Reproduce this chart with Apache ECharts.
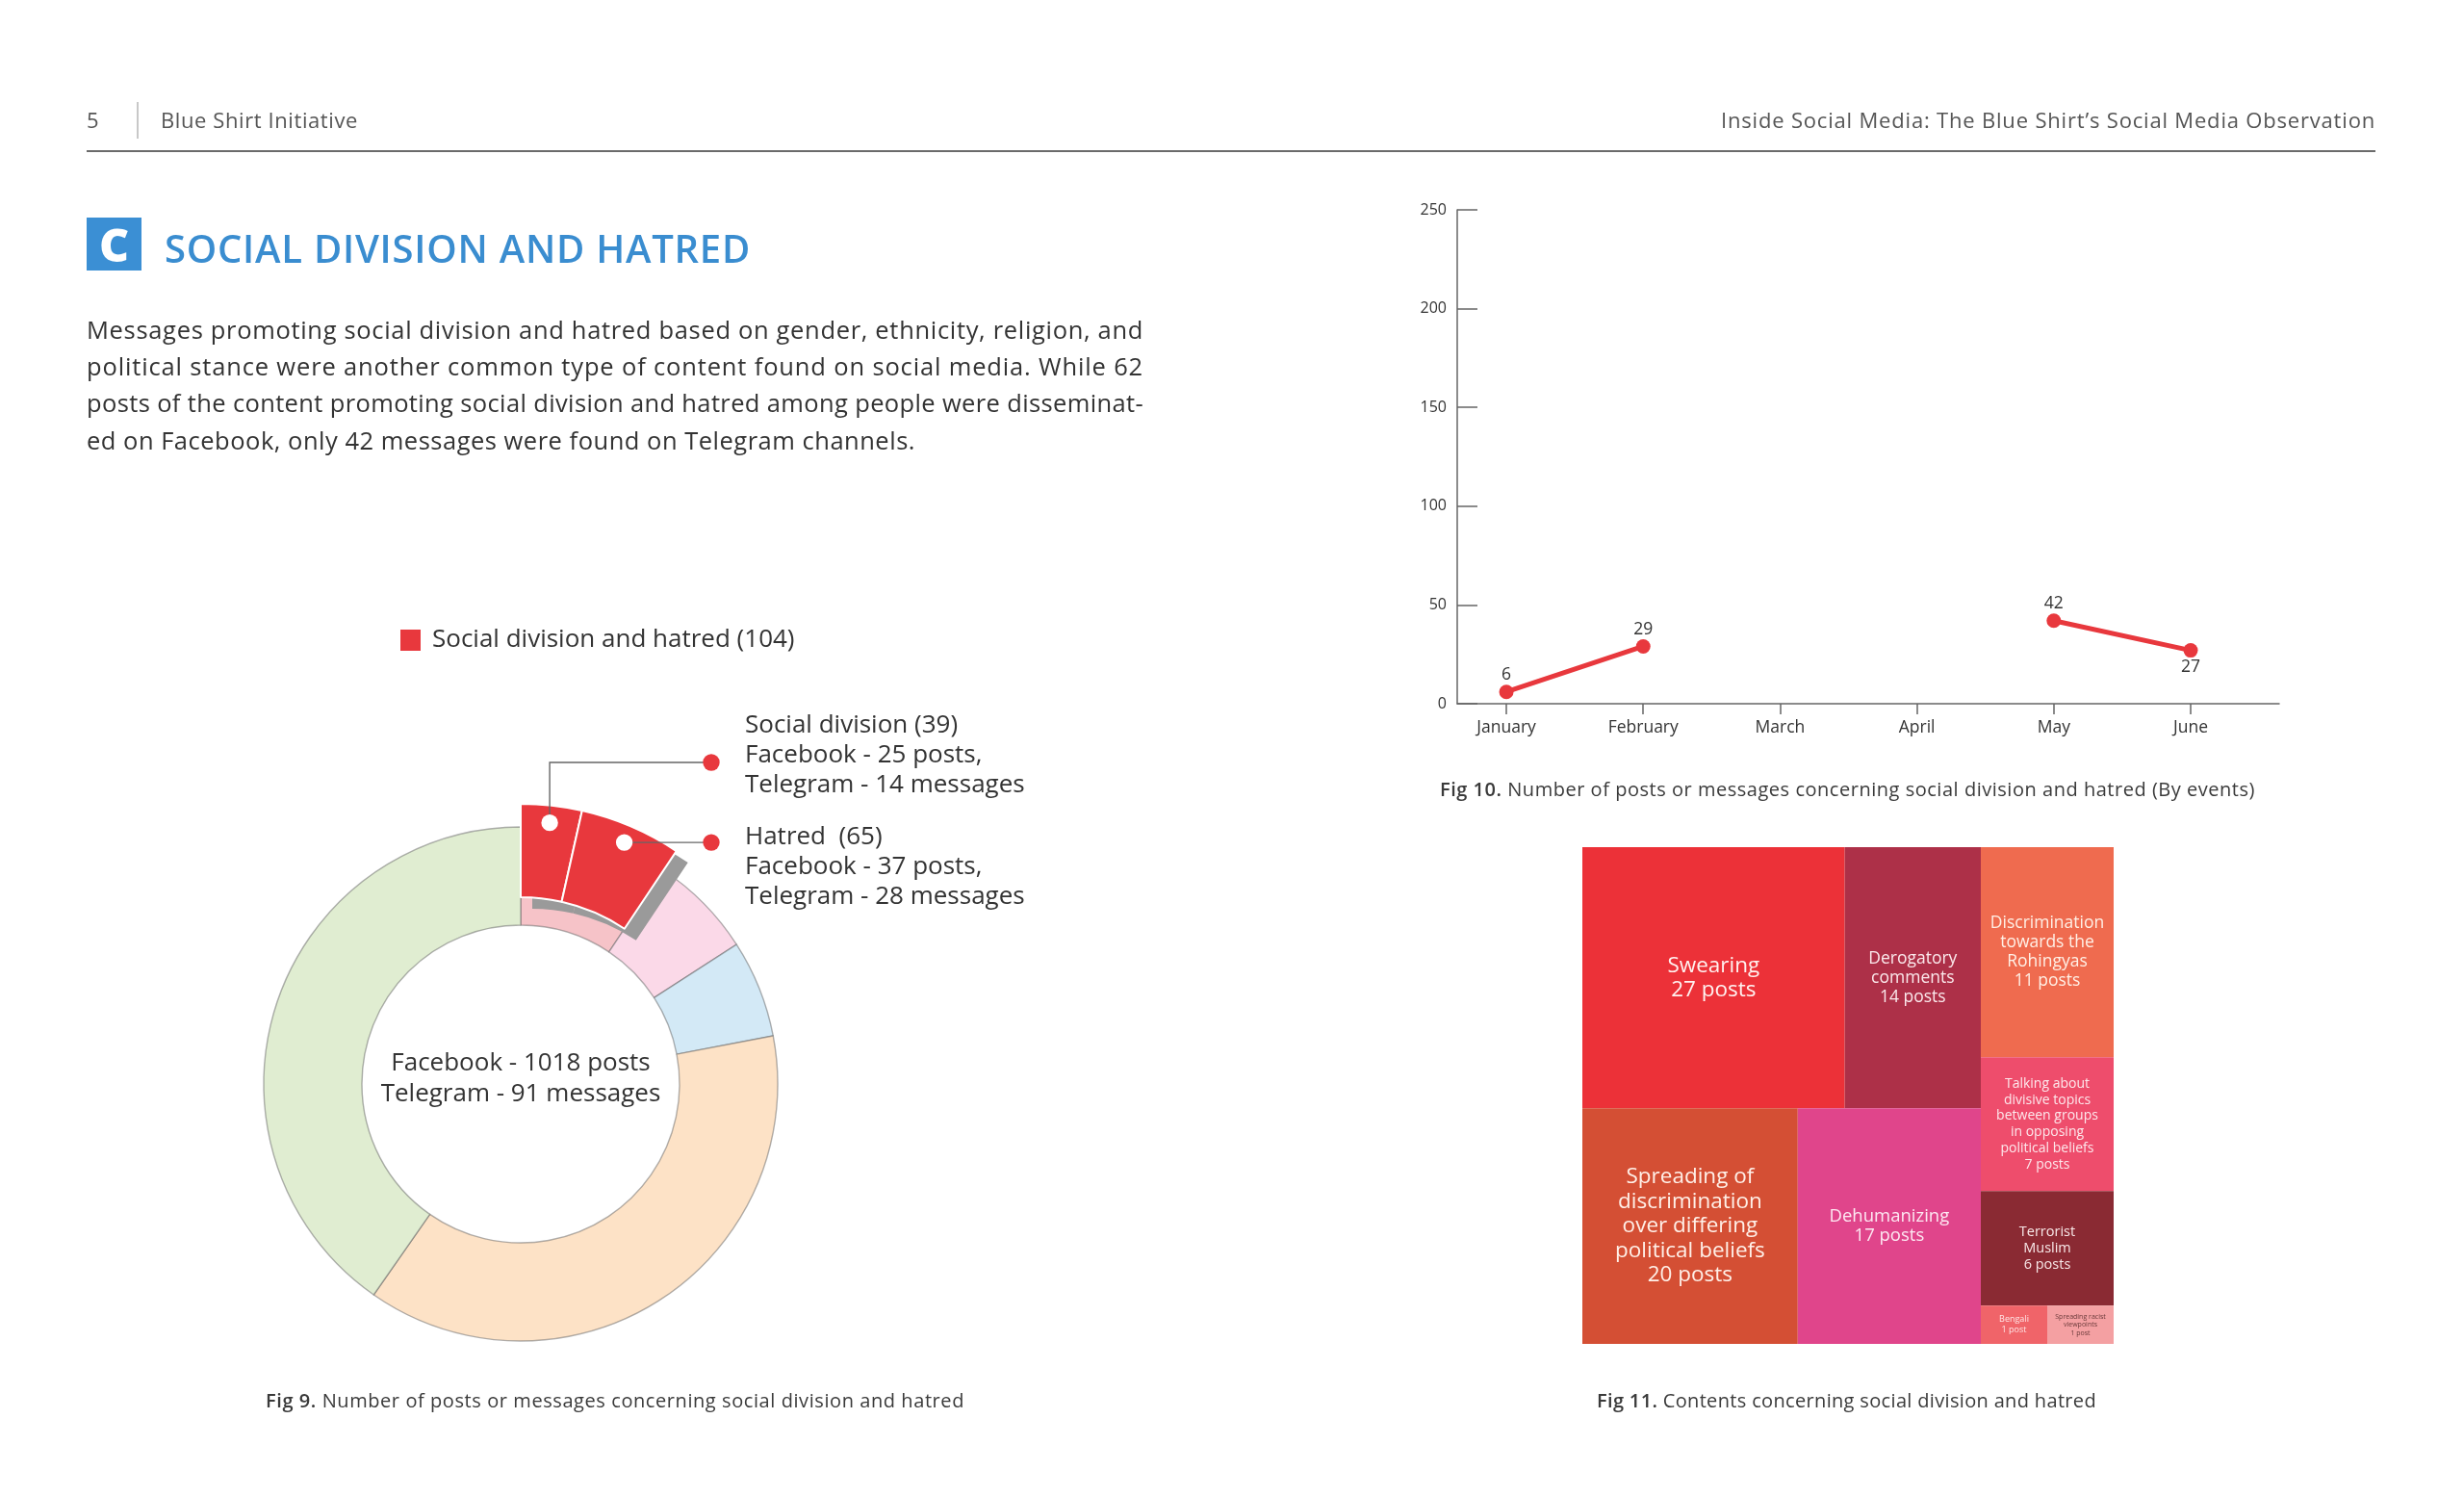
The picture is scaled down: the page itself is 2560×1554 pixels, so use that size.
<!DOCTYPE html>
<html>
<head>
<meta charset="utf-8">
<script src="https://cdn.jsdelivr.net/npm/echarts@6/dist/echarts.min.js"></script>
<style>
html,body{margin:0;padding:0;background:#fff;}
#page{position:relative;width:2560px;height:1554px;overflow:hidden;font-family:"Open Sans",sans-serif;background:#fff;}
#chart{position:absolute;left:0;top:0;width:2560px;height:1554px;}
.t{position:absolute;white-space:nowrap;}
</style>
</head>
<body>
<div id="page">
  <div id="chart"></div>
  <div class="t" style="left:90px;top:109px;font-size:22px;line-height:30px;color:#555;">5</div>
  <div style="position:absolute;left:142px;top:106px;width:1.5px;height:38px;background:#c8c8c8;"></div>
  <div class="t" id="hdrL" style="left:167px;top:109px;font-size:22px;line-height:30px;color:#555;">Blue Shirt Initiative</div>
  <div class="t" id="hdrR" style="right:92px;top:109px;font-size:22px;line-height:30px;color:#555;">Inside Social Media: The Blue Shirt’s Social Media Observation</div>
  <div style="position:absolute;left:90px;top:156px;width:2378px;height:2px;background:#6b6b6b;"></div>

  <div style="position:absolute;left:90px;top:226px;width:57px;height:55px;background:#3b8fd4;color:#fff;font-weight:800;font-size:48px;line-height:55px;text-align:center;">C</div>
  <div class="t" id="title" style="left:171px;top:233px;font-size:40px;line-height:50px;color:#3a8dd0;font-weight:600;">SOCIAL DIVISION AND HATRED</div>

  <div class="t" id="p1" style="left:90px;top:323px;font-size:25.5px;line-height:38px;color:#333;">Messages promoting social division and hatred based on gender, ethnicity, religion, and</div>
  <div class="t" id="p2" style="left:90px;top:361px;font-size:25.5px;line-height:38px;color:#333;">political stance were another common type of content found on social media. While 62</div>
  <div class="t" id="p3" style="left:90px;top:399px;font-size:25.5px;line-height:38px;color:#333;">posts of the content promoting social division and hatred among people were disseminat-</div>
  <div class="t" id="p4" style="left:90px;top:438px;font-size:25.5px;line-height:38px;color:#333;">ed on Facebook, only 42 messages were found on Telegram channels.</div>

  <div class="t" id="cap9" style="left:276px;top:1441px;font-size:20px;line-height:28px;color:#3a3a3a;"><b style="font-weight:600">Fig 9.</b> Number of posts or messages concerning social division and hatred</div>
  <div class="t" id="cap10" style="left:1496px;top:806px;font-size:20px;line-height:28px;color:#3a3a3a;"><b style="font-weight:600">Fig 10.</b> Number of posts or messages concerning social division and hatred (By events)</div>
  <div class="t" id="cap11" style="left:1659px;top:1441px;font-size:20px;line-height:28px;color:#3a3a3a;"><b style="font-weight:600">Fig 11.</b> Contents concerning social division and hatred</div>
</div>
<script>
// ---------- Data ----------
const donutNames = ['Social division and hatred (104)', 'Other content 1', 'Other content 2', 'Other content 3', 'Other content 4'];
const donutValues = [104, 72, 68, 418, 447];
const splitNames = ['Social division', 'Hatred'];
const splitValues = [39, 65];
const splitLabels = [
  ['Social division (39)', 'Facebook - 25 posts,', 'Telegram - 14 messages'],
  ['Hatred  (65)', 'Facebook - 37 posts,', 'Telegram - 28 messages']
];
const centerLabel = ['Facebook - 1018 posts', 'Telegram - 91 messages'];

const months = ['January', 'February', 'March', 'April', 'May', 'June'];
const monthValues = [6, 29, null, null, 42, 27];
const yTickMax = 250;
const yTickStep = 50;

const treeNames = ['Swearing', 'Derogatory comments', 'Spreading of discrimination over differing political beliefs', 'Dehumanizing',
  'Discrimination towards the Rohingyas', 'Talking about divisive topics between groups in opposing political beliefs', 'Terrorist Muslim', 'Bengali', 'Spreading racist viewpoints'];
const treeLabels = ['Swearing', 'Derogatory\ncomments', 'Spreading of\ndiscrimination\nover differing\npolitical beliefs', 'Dehumanizing',
  'Discrimination\ntowards the\nRohingyas', 'Talking about\ndivisive topics\nbetween groups\nin opposing\npolitical beliefs', 'Terrorist\nMuslim', 'Bengali', 'Spreading racist\nviewpoints'];
const treeValues = [27, 14, 20, 17, 11, 7, 6, 1, 1];
const treeGroups = ['A', 'A', 'A', 'A', 'B', 'B', 'B', 'B', 'B'];

// ---------- Styles ----------
const donutColors = ['#f6c3c8', '#fbd9e8', '#d3e9f6', '#fde2c6', '#e0edd1'];
const red = '#e8383d';
const treeColors = ['#ec3138', '#ad3048', '#d44f34', '#e0458b', '#ef6b4f', '#ee4d6c', '#8a2a33', '#f06469', '#f4a0a2'];
const treeFont = [22.5, 17.5, 22.5, 18.5, 17.5, 14, 14.5, 9, 7];
const treeLH = [25, 20, 25.5, 20, 20, 16.7, 17, 11, 8.6];
const treeText = ['#fff2f0', '#fbe9ec', '#fff0e8', '#fde8f2', '#fff0e6', '#fde8ec', '#f8e8e8', '#ffe8e8', '#6a3a3a'];
const pointLabelPos = ['top', 'top', 'top', 'top', 'top', 'bottom'];

const FONT = 'Open Sans';
const cx = 541, cy = 1126;
const total = donutValues.reduce((a, b) => a + b, 0);
const redTotal = splitValues.reduce((a, b) => a + b, 0);
const rest = total - redTotal;

const toXY = (ang, r) => [cx + r * Math.sin(ang * Math.PI / 180), cy - r * Math.cos(ang * Math.PI / 180)];
let acc = 0;
const mids = splitValues.map(v => { const m = (acc + v / 2) / total * 360; acc += v; return m; });
const dotR = 273;
const d0 = toXY(mids[0], dotR), d1 = toXY(mids[1], dotR);
const endX = 739, elbowY = 792;

const lineData = months.map((m, i) => ({
  value: [i, monthValues[i] == null ? '-' : monthValues[i]],
  label: { position: pointLabelPos[i] }
}));

const treeData = ['A', 'B'].map(g => ({
  name: g,
  children: treeNames.map((n, i) => i).filter(i => treeGroups[i] === g).map(i => ({
    name: treeLabels[i],
    value: treeValues[i],
    itemStyle: { color: treeColors[i] },
    label: { fontSize: treeFont[i], lineHeight: treeLH[i], color: treeText[i] }
  }))
}));

const splitData = (withShadow) => splitNames.map((n, i) => ({
  name: n, value: splitValues[i],
  itemStyle: withShadow
    ? { color: red, borderWidth: 0, shadowColor: '#9a9a9a', shadowBlur: 0, shadowOffsetX: 12, shadowOffsetY: 12 }
    : { color: red, borderColor: '#fff', borderWidth: 2 }
})).concat([{ name: 'split-rest', value: rest, itemStyle: { color: 'transparent', borderWidth: 0 } }]);

const chart = echarts.init(document.getElementById('chart'), null, { renderer: 'canvas' });
const gLine = { stroke: '#666', lineWidth: 1.4, fill: null };
chart.setOption({
  animation: false,
  textStyle: { fontFamily: FONT },
  legend: {
    left: 416, top: 652, padding: 0, itemWidth: 21, itemHeight: 22, icon: 'rect', selectedMode: false,
    data: [{ name: donutNames[0], itemStyle: { color: red, borderWidth: 0 } }],
    textStyle: { fontSize: 26, color: '#333', fontFamily: FONT, padding: [0, 0, 0, 7] }
  },
  grid: { left: 1514, top: 218, width: 854, height: 513 },
  xAxis: {
    type: 'value', min: -0.359, max: 5.647,
    splitLine: { show: false },
    axisLine: { lineStyle: { color: '#666', width: 1.5 } },
    axisTick: { show: true, length: 11, lineStyle: { color: '#666', width: 1.5 }, customValues: [0, 1, 2, 3, 4, 5] },
    axisLabel: { customValues: [0, 1, 2, 3, 4, 5], formatter: v => months[v], fontSize: 17.5, color: '#333', margin: 16, fontFamily: FONT }
  },
  yAxis: {
    type: 'value', min: 0, max: yTickMax, interval: yTickStep,
    splitLine: { show: false },
    axisLine: { show: true, onZero: false, lineStyle: { color: '#666', width: 1.5 } },
    axisTick: { show: true, inside: true, length: 21, lineStyle: { color: '#666', width: 1.5 } },
    axisLabel: { fontSize: 16, color: '#333', margin: 11, fontFamily: FONT }
  },
  series: [
    {
      type: 'pie', name: 'base', center: [cx, cy], radius: [165, 267], startAngle: 90, silent: true, z: 1,
      label: { show: false }, labelLine: { show: false },
      itemStyle: { borderColor: 'rgba(100,100,100,0.5)', borderWidth: 1.4 },
      data: donutNames.map((n, i) => ({ name: n, value: donutValues[i], itemStyle: { color: donutColors[i] } }))
    },
    {
      type: 'pie', name: 'splitShadow', center: [cx, cy], radius: [194, 291], startAngle: 90, silent: true, z: 3,
      label: { show: false }, labelLine: { show: false },
      data: splitData(true)
    },
    {
      type: 'pie', name: 'split', center: [cx, cy], radius: [194, 291], startAngle: 90, silent: true, z: 4,
      label: { show: false }, labelLine: { show: false },
      data: splitData(false)
    },
    {
      type: 'line', data: lineData, z: 5,
      symbol: 'circle', symbolSize: 15, connectNulls: false,
      lineStyle: { color: red, width: 5 }, itemStyle: { color: red },
      label: { show: true, fontSize: 17.5, color: '#333', distance: 1, fontFamily: FONT }
    },
    {
      type: 'treemap', left: 1644, top: 880, width: 552, height: 516,
      roam: false, nodeClick: false, sort: false, silent: true,
      breadcrumb: { show: false },
      levels: [
        { itemStyle: { borderWidth: 0, gapWidth: 0 } },
        { itemStyle: { borderWidth: 0, gapWidth: 0 }, upperLabel: { show: false } },
        { itemStyle: { borderWidth: 0, gapWidth: 0 } }
      ],
      label: {
        show: true, padding: 0, overflow: 'none', fontFamily: FONT,
        formatter: p => p.name + '\n' + p.value + (p.value === 1 ? ' post' : ' posts')
      },
      data: treeData
    }
  ],
  graphic: [
    { type: 'polyline', z: 10, shape: { points: [d0, [d0[0], elbowY], [endX, elbowY]] }, style: gLine },
    { type: 'polyline', z: 10, shape: { points: [d1, [endX, d1[1]]] }, style: gLine },
    { type: 'circle', z: 11, shape: { cx: d0[0], cy: d0[1], r: 8.7 }, style: { fill: '#fff' } },
    { type: 'circle', z: 11, shape: { cx: d1[0], cy: d1[1], r: 8.7 }, style: { fill: '#fff' } },
    { type: 'circle', z: 11, shape: { cx: endX, cy: elbowY, r: 8.7 }, style: { fill: red } },
    { type: 'circle', z: 11, shape: { cx: endX, cy: d1[1], r: 8.7 }, style: { fill: red } },
    { type: 'text', z: 11, x: 774, y: 738.5, style: { text: splitLabels[0].join('\n'), fontSize: 26, lineHeight: 31, fill: '#333', fontFamily: FONT, verticalAlign: 'top' } },
    { type: 'text', z: 11, x: 774, y: 854, style: { text: splitLabels[1].join('\n'), fontSize: 26, lineHeight: 31, fill: '#333', fontFamily: FONT, verticalAlign: 'top' } },
    { type: 'text', z: 11, x: cx, y: 1120.5, style: { text: centerLabel.join('\n'), fontSize: 26, lineHeight: 32, fill: '#333', fontFamily: FONT, align: 'center', verticalAlign: 'middle' } }
  ]
});

function fit(id, target, mode) {
  const el = document.getElementById(id);
  const w = el.getBoundingClientRect().width;
  const txt = el.textContent;
  if (mode === 'word') {
    const n = (txt.match(/ /g) || []).length;
    if (n) el.style.wordSpacing = ((target - w) / n) + 'px';
  } else {
    el.style.letterSpacing = ((target - w) / txt.length) + 'px';
  }
}
document.fonts.ready.then(() => {
  fit('p1', 1098); fit('p2', 1098); fit('p3', 1098); fit('p4', 861);
  fit('hdrL', 205); fit('hdrR', 680); fit('title', 609);
  fit('cap9', 726); fit('cap10', 847); fit('cap11', 519);
});
</script>
</body>
</html>
